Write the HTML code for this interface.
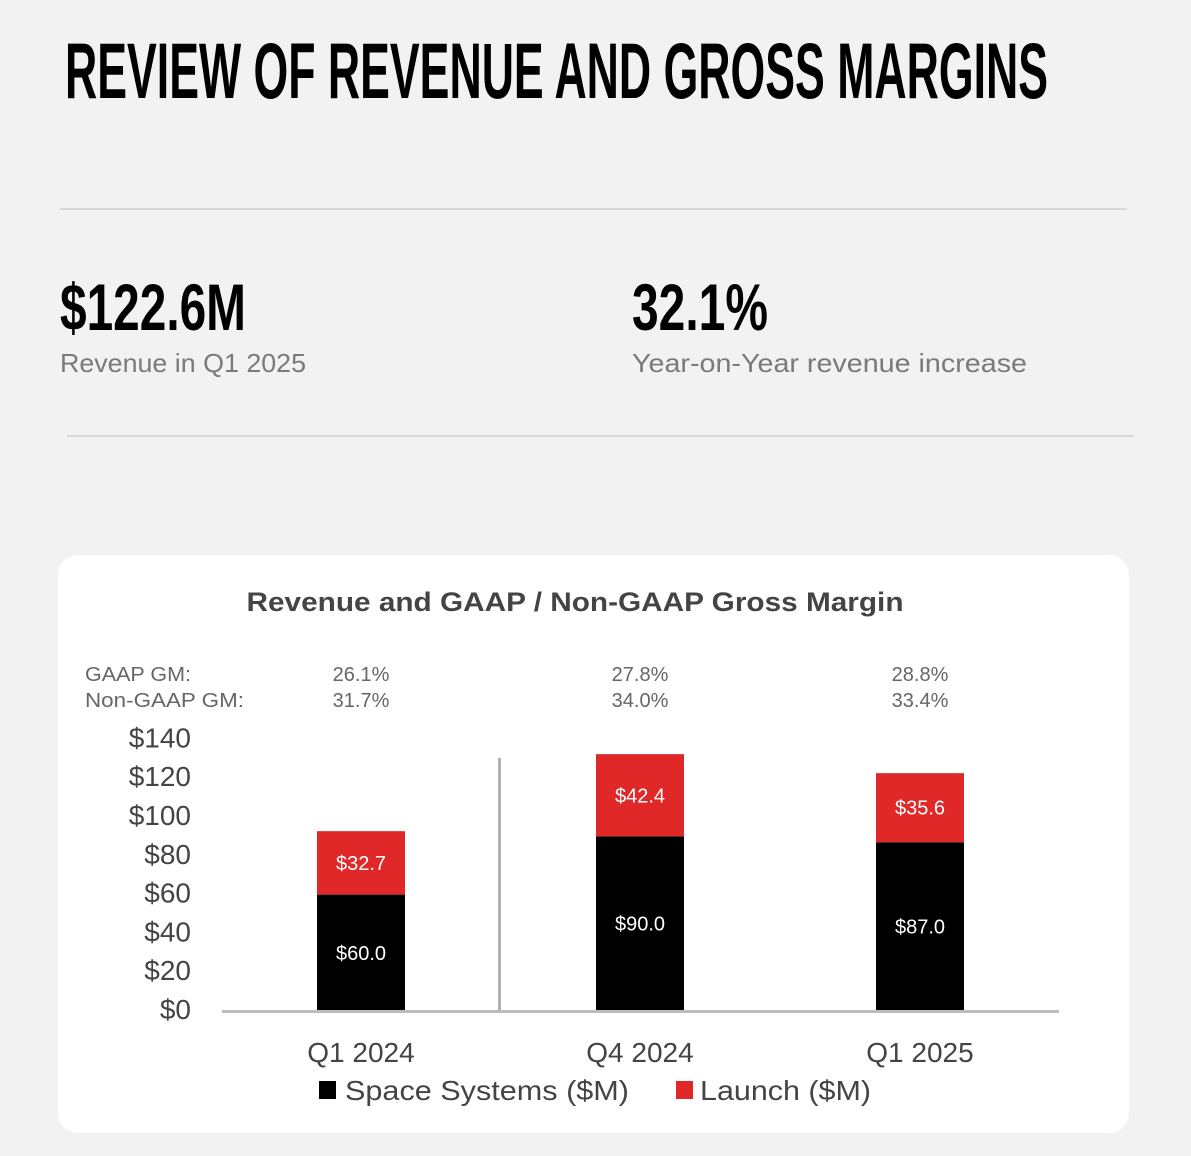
<!DOCTYPE html>
<html><head><meta charset="utf-8"><style>
html,body{margin:0;padding:0;background:#f2f2f2;}
svg{display:block;font-family:"Liberation Sans",sans-serif;}
</style></head><body>
<svg id="s" width="1191" height="1156" viewBox="0 0 1191 1156">
<rect x="0" y="0" width="1191" height="1156" fill="#f2f2f2"/>
<text x="65" y="98" font-size="79" font-weight="bold" fill="#000" textLength="983" lengthAdjust="spacingAndGlyphs">REVIEW OF REVENUE AND GROSS MARGINS</text>
<rect x="60" y="208" width="1067" height="2" fill="#d9d9d9"/>
<text x="60" y="330" font-size="66" font-weight="bold" fill="#000" textLength="186" lengthAdjust="spacingAndGlyphs">$122.6M</text>
<text x="60" y="372" font-size="26" fill="#7a7a7a" textLength="246" lengthAdjust="spacingAndGlyphs">Revenue in Q1 2025</text>
<text x="632" y="330" font-size="66" font-weight="bold" fill="#000" textLength="136" lengthAdjust="spacingAndGlyphs">32.1%</text>
<text x="632" y="372" font-size="26" fill="#7a7a7a" textLength="395" lengthAdjust="spacingAndGlyphs">Year-on-Year revenue increase</text>
<rect x="67" y="435" width="1067" height="2" fill="#d9d9d9"/>
<rect x="58" y="555" width="1071" height="578" rx="20" fill="#fff"/>
<text x="575" y="611" font-size="27" font-weight="bold" fill="#444" text-anchor="middle" textLength="657" lengthAdjust="spacingAndGlyphs">Revenue and GAAP / Non-GAAP Gross Margin</text>
<text x="85" y="681" font-size="20" fill="#666" textLength="106" lengthAdjust="spacingAndGlyphs">GAAP GM:</text>
<text x="85" y="707" font-size="20" fill="#666" textLength="159" lengthAdjust="spacingAndGlyphs">Non-GAAP GM:</text>
<g id="chart"></g>
</svg>
<script>
const categories=["Q1 2024","Q4 2024","Q1 2025"];
const spaceSystems=[60.0,90.0,87.0];
const launch=[32.7,42.4,35.6];
const gaapGM=["26.1%","27.8%","28.8%"];
const nonGaapGM=["31.7%","34.0%","33.4%"];
const yTicks=[0,20,40,60,80,100,120,140];
const NS="http://www.w3.org/2000/svg";
const g=document.getElementById('chart');
const y0=1011,k=1.94;
function y(v){return y0-v*k;}
const xc=[361,640,920];
function x(i){return xc[i];}
function mk(t,a,txt){const e=document.createElementNS(NS,t);for(const n in a)e.setAttribute(n,a[n]);if(txt!=null)e.textContent=txt;g.appendChild(e);return e;}
yTicks.forEach(v=>{
 const e=mk('text',{x:191,y:y(v)+8,'font-size':28,fill:'#444','text-anchor':'end'},'$'+v);
 
 
});
const sep=mk('rect',{x:498,y:758,width:3,height:y0-758,fill:'#b0b0b0'});


const bw=88;
categories.forEach((c,i)=>{
 const cx=x(i);
 const b1=mk('rect',{x:cx-bw/2,y:y(spaceSystems[i]),width:bw,height:y0-y(spaceSystems[i]),fill:'#000'});
 
 
 const tot=spaceSystems[i]+launch[i];
 const b2=mk('rect',{x:cx-bw/2,y:y(tot),width:bw,height:y(spaceSystems[i])-y(tot),fill:'#e12828'});
 
 
 const l1=mk('text',{x:cx,y:(y(spaceSystems[i])+y0)/2+7,'font-size':20,fill:'#fff','text-anchor':'middle'},'$'+spaceSystems[i].toFixed(1));
 
 
 const l2=mk('text',{x:cx,y:(y(spaceSystems[i])+y(tot))/2+7,'font-size':20,fill:'#fff','text-anchor':'middle'},'$'+launch[i].toFixed(1));
 
 
 const xl=mk('text',{x:cx,y:1062,'font-size':28,fill:'#444','text-anchor':'middle'},c);
 
 
 const g1=mk('text',{x:cx,y:681,'font-size':20,fill:'#666','text-anchor':'middle'},gaapGM[i]);
 
 
 const g2=mk('text',{x:cx,y:707,'font-size':20,fill:'#666','text-anchor':'middle'},nonGaapGM[i]);
 
 
});
const ax=mk('rect',{x:222,y:y0-1,width:837,height:3,fill:'#bdbdbd'});


const s1=mk('rect',{x:319,y:1081,width:17,height:18,fill:'#000'});


const t1=mk('text',{x:345,y:1100,'font-size':28,fill:'#444',textLength:284,lengthAdjust:'spacingAndGlyphs'},'Space Systems ($M)');


const s2=mk('rect',{x:676,y:1081,width:17,height:18,fill:'#e12828'});


const t2=mk('text',{x:700,y:1100,'font-size':28,fill:'#444',textLength:171,lengthAdjust:'spacingAndGlyphs'},'Launch ($M)');


</script>
</body></html>
